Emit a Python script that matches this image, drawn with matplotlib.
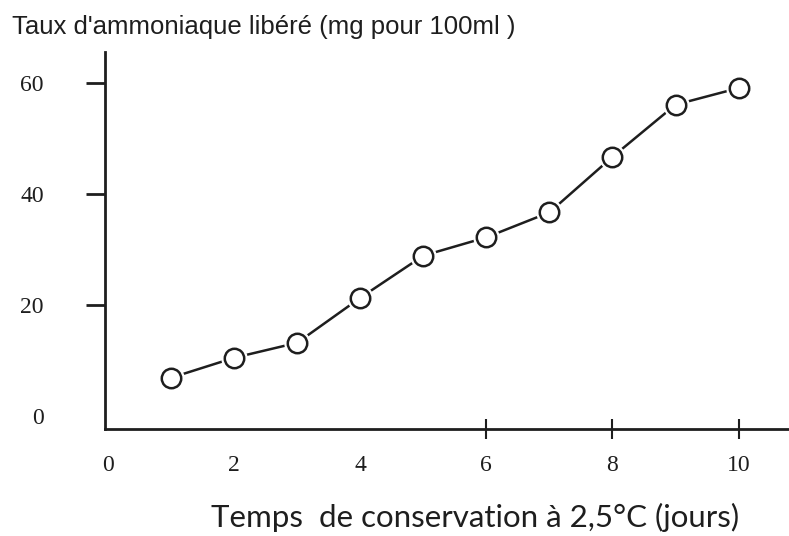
import matplotlib
matplotlib.use('Agg')
import matplotlib.pyplot as plt

# données
jours = [1, 2, 3, 4, 5, 6, 7, 8, 9, 10]
ammoniaque = [6.9, 10.5, 13.2, 21.3, 28.9, 32.2, 36.7, 46.7, 56.1, 59.1]
x_ticks = [0, 2, 4, 6, 8, 10]
y_ticks = [0, 20, 40, 60]

ink = '#1e1e1e'

fig = plt.figure(figsize=(7.89, 5.36), dpi=100)
ax = fig.add_axes([0.133, 0.2, 0.867, 0.703])

# ligne + cercles ouverts (halo blanc pour laisser un petit espace)
ax.plot(jours, ammoniaque, color=ink, lw=1.8, zorder=1)
ax.plot(jours, ammoniaque, 'o', ms=18, mfc='white', mec='white', zorder=2)
ax.plot(jours, ammoniaque, 'o', ms=14, mfc='white', mec=ink, mew=1.8, zorder=3)

ax.set_xlim(-0.05, 10.8)
ax.set_ylim(-2.3, 65.6)

ax.spines['top'].set_visible(False)
ax.spines['right'].set_visible(False)
for s in ['left', 'bottom']:
    ax.spines[s].set_linewidth(2)
    ax.spines[s].set_color(ink)

ax.set_yticks(y_ticks)
ax.set_xticks(x_ticks)
ax.tick_params(axis='y', direction='out', length=14, width=2, color=ink, pad=30,
               labelsize=17, labelcolor=ink)
ax.tick_params(axis='x', direction='inout', length=14, width=1.5, color=ink, pad=12,
               labelsize=17, labelcolor=ink)
for lab in ax.get_yticklabels() + ax.get_xticklabels():
    lab.set_family('Liberation Serif')
# pas de graduations visibles sur 0, 2, 4
for t in ax.xaxis.get_major_ticks()[:3]:
    t.tick1line.set_visible(False)
    t.tick2line.set_visible(False)
ax.yaxis.get_major_ticks()[0].tick1line.set_visible(False)

fig.text(0.015, 0.95, "Taux d'ammoniaque libéré (mg pour 100ml )", fontsize=18.5,
         family='Liberation Sans', color=ink, ha='left', va='center')
fig.text(0.602, 0.034, 'Temps  de conservation à 2,5°C (jours)', fontsize=22.5,
         family='Lato', color=ink, ha='center', va='center')

fig.savefig('out.png', dpi=100, facecolor='white')
